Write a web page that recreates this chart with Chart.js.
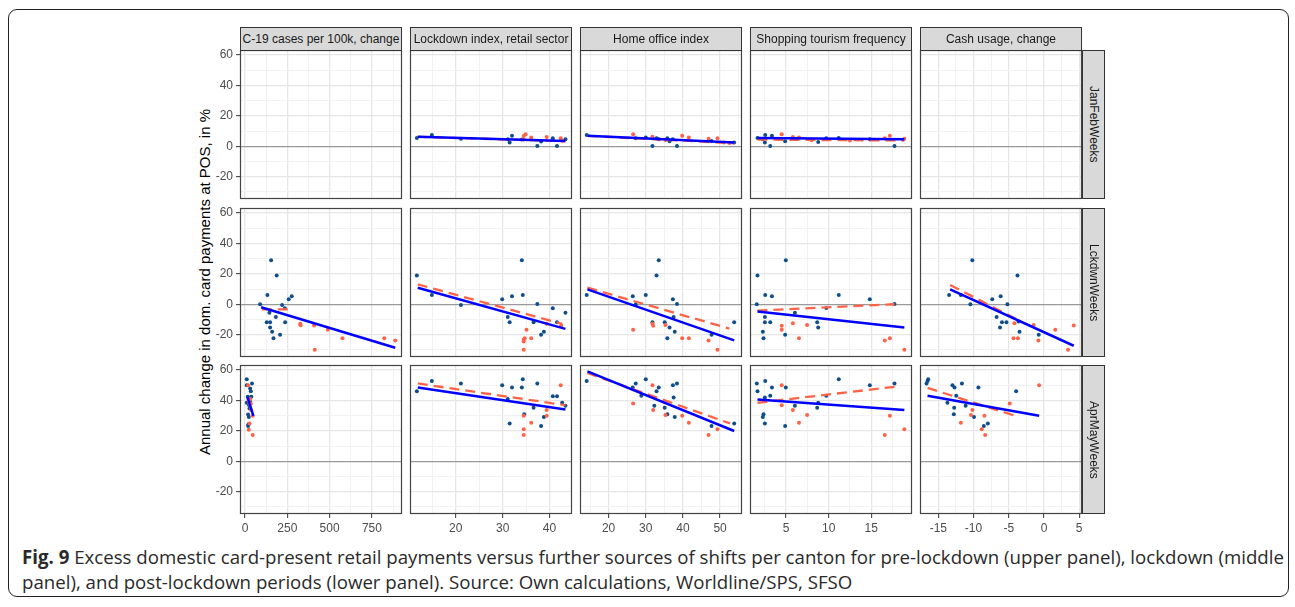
<!DOCTYPE html>
<html>
<head>
<meta charset="utf-8">
<script src="https://cdn.jsdelivr.net/npm/chart.js@4.4.1/dist/chart.umd.min.js"></script>
<style>
  html, body { margin: 0; padding: 0; background: #fff; }
  body { width: 1295px; height: 607px; position: relative; overflow: hidden; font-family: "Liberation Sans", Arial, sans-serif; }
  .frame { position: absolute; left: 8px; top: 9px; width: 1281px; height: 588px; border: 1.5px solid #222; border-radius: 9px; box-sizing: border-box; }
  canvas { position: absolute; }
  .strip { position: absolute; box-sizing: border-box; background: #d9d9d9; border: 1px solid #333; color: #1a1a1a; font-size: 12px; display: flex; align-items: center; justify-content: center; white-space: nowrap; }
  .strip.side { writing-mode: vertical-rl; }
  .ytitle { position: absolute; left: 204px; top: 282px; transform: translate(-50%, -50%) rotate(-90deg); font-size: 15px; color: #000; white-space: nowrap; }
  .caption { position: absolute; left: 22px; top: 544px; font-family: "Open Sans", "Noto Sans", sans-serif; font-size: 16.5px; line-height: 25px; color: #2a2a2a; white-space: nowrap; }
</style>
</head>
<body>
<div class="frame"></div>
<div class="ytitle">Annual change in dom. card payments at POS, in %</div>
<div class="caption"><span id="cap1"><b>Fig. 9</b> Excess domestic card-present retail payments versus further sources of shifts per canton for pre-lockdown (upper panel), lockdown (middle</span><br>panel), and post-lockdown periods (lower panel). Source: Own calculations, Worldline/SPS, SFSO</div>
<script>
// facets
const columns = ['C-19 cases per 100k, change', 'Lockdown index, retail sector', 'Home office index', 'Shopping tourism frequency', 'Cash usage, change'];
const periods = ['JanFebWeeks', 'LckdwnWeeks', 'AprMayWeeks'];

// tick labels
const yTicks = [-20, 0, 20, 40, 60];
const xTicks = [[0, 250, 500, 750], [20, 30, 40], [20, 30, 40, 50], [5, 10, 15], [-15, -10, -5, 0, 5]];
const yLimits = [-34.7, 63.35];
const xLimits = [[-30, 928], [10.24, 44.8], [12.3, 55.9], [0.75, 19.8], [-17.6, 5.4]];

// JanFebWeeks
const jf_lock_blue = [[11.7,5.5],[14.9,7.4],[21.1,5.0],[31.1,4.6],[31.5,2.4],[32.0,7.0],[34.1,4.4],[37.4,0.2],[38.2,3.1],[40.7,5.2],[41.6,0.2],[43.4,4.6]];
const jf_lock_red = [[34.5,6.8],[34.9,7.9],[36.1,5.7],[39.4,6.1],[42.4,5.2],[42.7,3.6],[34.5,4.4]];
const jf_lock_fitBlue = [[11.9,6.3],[43.4,3.5]];
const jf_lock_fitRed = [[11.9,6.2],[43.4,3.3]];
const jf_home_blue = [[14.1,7.4],[27.3,5.2],[30.0,5.7],[31.8,0.2],[32.9,5.2],[33.5,4.6],[35.8,5.2],[36.4,3.3],[37.3,4.6],[38.4,0.2],[47.7,3.5],[53.8,2.4]];
const jf_home_red = [[26.6,7.9],[31.8,6.3],[35.3,4.2],[39.8,7.0],[41.6,5.7],[46.9,5.0],[49.3,5.2],[51.0,2.5],[52.5,2.2]];
const jf_home_fitBlue = [[14.3,7.0],[53.8,2.4]];
const jf_home_fitRed = [[14.3,6.8],[53.8,2.0]];
const jf_shop_blue = [[1.63,5.5],[2.54,7.4],[3.33,7.0],[2.5,2.4],[3.13,0.2],[2.26,4.6],[4.88,3.3],[8.77,2.8],[9.72,5.2],[11.19,5.5],[14.84,4.6],[17.74,0.2]];
const jf_shop_red = [[4.48,7.9],[5.79,6.1],[6.51,5.7],[8.0,4.0],[12.5,3.8],[16.6,5.2],[17.2,7.0],[18.9,5.0]];
const jf_shop_fitBlue = [[1.63,5.4],[18.9,4.7]];
const jf_shop_fitRed = [[1.63,4.4],[18.9,3.8]];

// LckdwnWeeks
const lk_covid_blue = [[89,0],[132,6.1],[154,28.9],[187,19.0],[128,-11.8],[148,-11.8],[144,-5.5],[148,-15.3],[160,-18.1],[168,-22.3],[182,-8.3],[207,-20.1],[219,-0.4],[235,-2.6],[237,-11.8],[258,3.3],[276,5.2]];
const lk_covid_red = [[326,-12.9],[328,-13.8],[408,-14.0],[412,-30],[489,-16.8],[576,-22.3],[823,-22.3],[888,-23.8]];
const lk_covid_fitBlue = [[95,-2.0],[888,-28.6]];
const lk_covid_fitRed = [[99,-3.3],[276,-3.3]];
const lk_lock_blue = [[11.7,19.0],[14.9,6.1],[21.1,-0.4],[29.9,3.3],[31.1,-8.3],[31.5,-11.8],[32.0,5.2],[34.1,28.9],[34.3,6.1],[36.6,-11.8],[37.4,0.2],[38.2,-20.1],[38.8,-18.1],[40.7,-2.6],[41.6,-11.8],[43.4,-5.5]];
const lk_lock_red = [[34.5,-30],[34.5,-24.5],[34.5,-23.4],[34.7,-22.3],[35.1,-16.8],[36.1,-22.3],[39.4,-12.9],[42.5,-14.0]];
const lk_lock_fitBlue = [[11.9,10.9],[43.4,-16.2]];
const lk_lock_fitRed = [[11.9,13.1],[42.7,-12.9]];
const lk_home_blue = [[14.1,6.1],[26.5,5.2],[27.3,0],[30.0,6.1],[32.9,19.0],[33.5,28.9],[31.8,-11.8],[35.1,-11.8],[36.4,-15.3],[37.3,3.3],[37.5,-8.3],[38.4,0.2],[37.8,-18.1],[35.8,-22.3],[47.7,-20.1],[53.8,-11.8]];
const lk_home_red = [[26.6,-16.8],[31.8,-12.9],[32.0,-14.2],[35.3,-13.6],[39.8,-22.3],[41.6,-22.3],[46.9,-23.8],[49.3,-30]];
const lk_home_fitBlue = [[14.3,9.8],[53.8,-23.8]];
const lk_home_fitRed = [[14.3,10.9],[52.5,-16.0]];
const lk_shop_blue = [[1.63,19.0],[1.55,0],[2.54,6.1],[3.33,5.2],[2.5,-8.3],[2.5,-11.8],[3.13,-11.8],[2.26,-18.1],[2.34,-22.3],[4.96,28.9],[4.88,-20.1],[6.03,-5.5],[8.65,-11.8],[8.77,-15.3],[9.72,-2.4],[11.19,6.1],[14.84,3.3],[17.74,0.2]];
const lk_shop_red = [[4.48,-14.2],[4.48,-16.8],[5.79,-12.5],[6.51,-22.3],[7.46,-13.6],[16.6,-23.8],[17.2,-22.3],[18.9,-30]];
const lk_shop_fitBlue = [[1.63,-4.8],[18.9,-15.3]];
const lk_shop_fitRed = [[1.63,-4.2],[17.74,0]];
const lk_cash_blue = [[-13.47,6.1],[-11.8,6.1],[-10.45,0],[-10.17,28.9],[-7.34,3.3],[-6.15,5.2],[-6.72,-8.3],[-5.96,-11.8],[-6.24,-15.3],[-5.33,-11.8],[-5.19,0],[-3.76,19.0],[-3.61,-11.4],[-3.47,-18.1],[-0.74,-20.1]];
const lk_cash_red = [[-4.19,-12.5],[-4.33,-22.3],[-3.7,-22.3],[-1.46,-13.6],[-0.79,-23.8],[1.6,-16.8],[3.42,-30],[4.23,-14.0]];
const lk_cash_fitBlue = [[-13.33,9.8],[4.23,-27.3]];
const lk_cash_fitRed = [[-13.33,12.7],[-3.52,-10.7]];

// AprMayWeeks
const am_covid_blue = [[10,54],[10,50],[10,38.5],[16,42.4],[30,47.9],[34,46.1],[41,51.2],[37,42.4],[18,30.8],[22,29.1],[24,36.9],[26,34.8],[20,24.3],[18,23.2],[30,39.1]];
const am_covid_red = [[18,50],[30,40.9],[34,38],[36,33.7],[26,24.9],[22,20.8],[45,29.9],[45,17.3]];
const am_covid_fitBlue = [[14,42.4],[49,29.9]];
const am_covid_fitRed = [[14,41.0],[47,30.5]];
const am_lock_blue = [[11.7,46.1],[14.9,52.9],[21.1,51.2],[29.9,50.1],[31.1,40.9],[31.5,24.9],[32.0,48.5],[34.1,48.5],[34.3,54.0],[34.6,31.0],[36.6,35.2],[37.4,51.2],[38.2,23.2],[38.8,29.1],[40.7,42.8],[41.6,42.8],[42.7,38.5],[43.4,36.5]];
const am_lock_red = [[34.5,29.9],[34.5,21.0],[34.5,17.3],[36.1,25.4],[39.4,29.9],[39.4,33.7],[42.4,50.1]];
const am_lock_fitBlue = [[11.9,48.5],[43.4,34.1]];
const am_lock_fitRed = [[11.9,51.2],[43.4,36.9]];
const am_home_blue = [[14.1,52.9],[26.5,48.5],[27.3,51.2],[28.8,43.1],[30.0,54.0],[32.3,36.5],[32.9,46.1],[33.5,48.5],[35.1,35.2],[35.8,31.0],[37.3,50.1],[37.5,42.0],[38.4,51.2],[37.8,29.1],[47.7,23.2],[53.8,24.9]];
const am_home_red = [[26.6,38.0],[31.8,50.1],[32.0,33.7],[35.3,30.4],[39.8,29.9],[41.6,25.4],[46.9,17.3],[49.3,21.0]];
const am_home_fitBlue = [[14.3,59.2],[53.8,19.9]];
const am_home_fitRed = [[14.3,58.1],[52.7,24.9]];
const am_shop_blue = [[1.55,51.2],[1.63,46.1],[2.54,52.9],[2.5,42.0],[3.33,48.5],[3.13,43.1],[2.26,29.1],[2.34,31.0],[2.5,24.9],[4.96,48.5],[4.88,23.2],[6.03,36.5],[8.65,35.2],[8.77,38.5],[9.72,43.1],[11.19,54.0],[14.84,50.1],[17.74,51.2]];
const am_shop_red = [[4.48,50.1],[4.48,36.9],[5.79,33.7],[6.51,25.4],[7.46,30.4],[16.6,17.3],[17.2,29.9],[18.9,21.0]];
const am_shop_fitBlue = [[1.63,40.7],[18.9,33.7]];
const am_shop_fitRed = [[1.63,38.5],[17.74,49.0]];
const am_cash_blue = [[-16.67,51.2],[-16.53,52.9],[-16.44,54.0],[-13.71,38.5],[-12.99,50.1],[-12.70,48.5],[-12.46,43.1],[-12.75,35.2],[-12.8,31.0],[-11.65,51.2],[-11.12,36.5],[-9.93,29.1],[-9.31,48.5],[-8.54,23.2],[-7.97,24.9],[-3.95,46.1]];
const am_cash_red = [[-11.8,25.4],[-10.36,30.4],[-10.17,33.7],[-8.83,21.0],[-8.45,29.9],[-8.35,17.3],[-4.86,38.0],[-0.69,50.1]];
const am_cash_fitBlue = [[-16.53,43.1],[-0.69,29.9]];
const am_cash_fitRed = [[-16.53,48.3],[-3.95,29.7]];

const panels = [
  [null,
   {blue: jf_lock_blue, red: jf_lock_red, fitBlue: jf_lock_fitBlue, fitRed: jf_lock_fitRed},
   {blue: jf_home_blue, red: jf_home_red, fitBlue: jf_home_fitBlue, fitRed: jf_home_fitRed},
   {blue: jf_shop_blue, red: jf_shop_red, fitBlue: jf_shop_fitBlue, fitRed: jf_shop_fitRed},
   null],
  [{blue: lk_covid_blue, red: lk_covid_red, fitBlue: lk_covid_fitBlue, fitRed: lk_covid_fitRed},
   {blue: lk_lock_blue, red: lk_lock_red, fitBlue: lk_lock_fitBlue, fitRed: lk_lock_fitRed},
   {blue: lk_home_blue, red: lk_home_red, fitBlue: lk_home_fitBlue, fitRed: lk_home_fitRed},
   {blue: lk_shop_blue, red: lk_shop_red, fitBlue: lk_shop_fitBlue, fitRed: lk_shop_fitRed},
   {blue: lk_cash_blue, red: lk_cash_red, fitBlue: lk_cash_fitBlue, fitRed: lk_cash_fitRed}],
  [{blue: am_covid_blue, red: am_covid_red, fitBlue: am_covid_fitBlue, fitRed: am_covid_fitRed},
   {blue: am_lock_blue, red: am_lock_red, fitBlue: am_lock_fitBlue, fitRed: am_lock_fitRed},
   {blue: am_home_blue, red: am_home_red, fitBlue: am_home_fitBlue, fitRed: am_home_fitRed},
   {blue: am_shop_blue, red: am_shop_red, fitBlue: am_shop_fitBlue, fitRed: am_shop_fitRed},
   {blue: am_cash_blue, red: am_cash_red, fitBlue: am_cash_fitBlue, fitRed: am_cash_fitRed}]
];

// layout
const colLeft = [240, 410, 580, 750, 920];
const rowTop = [50, 208, 365];
const PW = 162, PH = 149, AXW = 40, AXH = 22, PAD = 6;

const BLUE_PT = '#104E8B', RED_PT = '#FF6347';

// major ticks plus ggplot-style minor breaks halfway between them
function gridValues(majors, lo, hi) {
  const step = majors[1] - majors[0];
  const out = [];
  for (let v = majors[0] - step / 2; v <= majors[majors.length - 1] + step / 2 + 1e-9; v += step / 2) {
    if (v > lo && v < hi) out.push(+v.toFixed(6));
  }
  return out;
}

const panelBorder = {
  id: 'panelBorder',
  afterDraw(chart) {
    const a = chart.chartArea, ctx = chart.ctx;
    ctx.save();
    ctx.strokeStyle = '#444';
    ctx.lineWidth = 1.2;
    ctx.strokeRect(a.left + 0.5, a.top + 0.5, a.right - a.left - 1, a.bottom - a.top - 1);
    ctx.restore();
  }
};

const pts = arr => arr.map(p => ({x: p[0], y: p[1]}));

function makeScale(majors, lo, hi, showLabels, isX) {
  const vals = gridValues(majors, lo, hi);
  return {
    type: 'linear', min: lo, max: hi,
    afterBuildTicks: s => { s.ticks = vals.map(v => ({value: v})); },
    afterFit: s => {
      if (isX) { s.height = showLabels ? AXH : 0; s.paddingLeft = 0; s.paddingRight = 0; }
      else { s.width = showLabels ? AXW : 0; s.paddingTop = 0; s.paddingBottom = 0; }
    },
    ticks: {
      display: showLabels, autoSkip: false, maxRotation: 0, padding: 3,
      color: '#4d4d4d', font: {family: 'Liberation Sans', size: 12},
      callback: v => majors.includes(v) ? String(v) : ''
    },
    grid: {
      drawTicks: showLabels, tickLength: 4, tickWidth: 1,
      tickColor: c => majors.includes(c.tick.value) ? '#333' : 'rgba(0,0,0,0)',
      color: c => (!isX && c.tick.value === 0) ? '#9a9a9a' : (majors.includes(c.tick.value) ? '#e6e6e6' : '#f2f2f2'),
      lineWidth: c => majors.includes(c.tick.value) ? 1.3 : 1
    },
    border: {display: false}
  };
}

for (let r = 0; r < 3; r++) {
  for (let c = 0; c < 5; c++) {
    const showY = c === 0, showX = r === 2;
    const cv = document.createElement('canvas');
    const w = PW + (showY ? AXW : 0) + 2 * PAD;
    const h = PH + (showX ? AXH : 0) + 2 * PAD;
    cv.width = w; cv.height = h;
    cv.style.width = w + 'px'; cv.style.height = h + 'px';
    cv.style.left = (colLeft[c] - (showY ? AXW : 0) - PAD) + 'px';
    cv.style.top = (rowTop[r] - PAD) + 'px';
    document.body.appendChild(cv);

    const p = panels[r][c];
    const datasets = [];
    if (p) {
      datasets.push({data: pts(p.fitBlue), showLine: true, pointRadius: 0, borderColor: '#0000ff', borderWidth: 2.5, order: 0});
      datasets.push({data: pts(p.fitRed), showLine: true, pointRadius: 0, borderColor: RED_PT, borderWidth: 2.3, borderDash: [10, 6], order: 1});
      datasets.push({data: pts(p.red), pointRadius: 2, pointBorderWidth: 0, backgroundColor: RED_PT, borderColor: RED_PT, order: 2});
      datasets.push({data: pts(p.blue), pointRadius: 2, pointBorderWidth: 0, backgroundColor: BLUE_PT, borderColor: BLUE_PT, order: 3});
    }

    new Chart(cv, {
      type: 'scatter',
      data: {datasets},
      options: {
        responsive: false, animation: false, events: [],
        devicePixelRatio: 1,
        layout: {padding: PAD},
        plugins: {legend: {display: false}, tooltip: {enabled: false}},
        scales: {
          x: makeScale(xTicks[c], xLimits[c][0], xLimits[c][1], showX, true),
          y: makeScale(yTicks, yLimits[0], yLimits[1], showY, false)
        }
      },
      plugins: [panelBorder]
    });
  }
}

// strips
columns.forEach((name, c) => {
  const d = document.createElement('div');
  d.className = 'strip';
  d.style.left = colLeft[c] + 'px';
  d.style.top = '27px';
  d.style.width = PW + 'px';
  d.style.height = '24px';
  d.textContent = name;
  document.body.appendChild(d);
});
periods.forEach((name, r) => {
  const d = document.createElement('div');
  d.className = 'strip side';
  d.style.left = (colLeft[4] + PW) + 'px';
  d.style.top = rowTop[r] + 'px';
  d.style.width = '23px';
  d.style.height = PH + 'px';
  d.textContent = name;
  document.body.appendChild(d);
});

// fit caption line width to the figure
const cap = document.querySelector('.caption');
const cap1 = document.getElementById('cap1');
const fs = 16.5 * 1262 / cap1.getBoundingClientRect().width;
cap.style.fontSize = fs.toFixed(2) + 'px';
</script>
</body>
</html>
